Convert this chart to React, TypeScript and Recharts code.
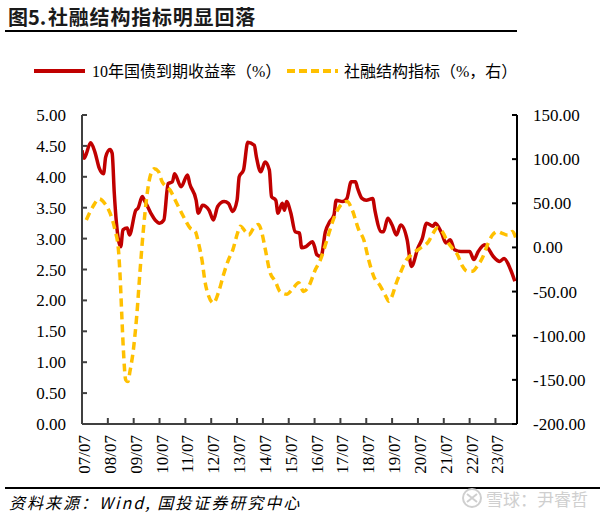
import { LineChart, Line, XAxis, YAxis } from 'recharts'

// months counted from 2007/07
const yieldMonths = [
  0, 1, 4, 6, 8, 10, 11, 13, 14, 15, 16, 18, 19, 21, 22, 25, 26, 28, 29, 32,
  34, 36, 38, 40, 42, 43, 46, 49, 50, 53, 54, 56, 59, 61, 63, 66, 68, 70, 72, 73,
  75, 77, 80, 81, 83, 85, 87, 88, 90, 91, 93, 94, 95, 97, 99, 101, 102, 104, 107, 108,
  109, 111, 113, 115, 117, 118, 121, 123, 125, 127, 128, 130, 132, 135, 136, 139, 140, 142, 144, 146,
  148, 151, 153, 156, 158, 160, 163, 164, 167, 169, 171, 173, 176, 180, 182, 184, 187, 188, 191, 194,
  196, 199, 201,
]
const yieldValues = [
  4.43, 4.3, 4.55, 4.4, 4.14, 4.05, 4.32, 4.44, 4.38, 3.73, 3.25, 2.87, 3.14, 3.17, 3.06, 3.46, 3.49, 3.68, 3.62, 3.41,
  3.3, 3.25, 3.3, 3.89, 3.92, 4.05, 3.84, 4.03, 3.89, 3.62, 3.41, 3.54, 3.46, 3.3, 3.52, 3.6, 3.57, 3.44, 3.62, 4.0,
  4.11, 4.56, 4.51, 4.32, 4.08, 4.24, 4.11, 3.68, 3.62, 3.41, 3.57, 3.46, 3.6, 3.41, 3.11, 3.09, 2.85, 2.87, 2.95, 2.87,
  2.74, 2.71, 3.11, 3.27, 3.38, 3.62, 3.6, 3.65, 3.92, 3.92, 3.81, 3.65, 3.62, 3.65, 3.46, 3.11, 3.11, 3.33, 3.22, 3.06,
  3.22, 2.98, 2.55, 2.85, 3.0, 3.25, 3.2, 3.25, 3.09, 2.93, 2.98, 2.82, 2.79, 2.79, 2.66, 2.79, 2.9, 2.87, 2.71, 2.63,
  2.68, 2.5, 2.31,
]

const tsfMonths = [
  2, 5, 8, 10.5, 13, 15.3, 16.9, 17.7, 18.5, 19.2, 20.3, 21.3, 22.3, 23.9, 25.4, 27, 28.5, 30.1, 31.6, 33.5,
  35.5, 37.1, 40.9, 44, 47.1, 50.2, 52.6, 54.1, 55.7, 57.2, 58.8, 61, 63.5, 65.7, 68, 70, 72.2, 73.5, 75.9, 77.4,
  79.7, 82, 83.6, 85.1, 87.4, 89.7, 92, 95.1, 97.5, 100.6, 102.9, 105.3, 108.4, 110.7, 113.8, 116.2, 119.3, 123.1, 125.4, 128.5,
  130.8, 133.1, 135.5, 138.6, 141, 142.5, 144, 146, 148, 150.2, 153, 157, 161, 163, 165, 167.3, 169.6, 172, 174.3, 176.6,
  179, 181.3, 183.6, 185.9, 188.3, 190.6, 192.9, 195.2, 197.6, 199.9, 201.4,
]
const tsfValues = [
  31, 46, 55, 50, 39, 20, -2, -33, -78, -115, -150, -152, -140, -115, -78, -25, 20, 58, 80, 89,
  86, 75, 65, 50, 35, 22, 18, 5, -14, -40, -55, -63, -50, -31, -14, -3, 16, 24, 18, 14,
  22, 26, 16, -2, -29, -38, -50, -53, -48, -40, -50, -44, -25, -14, 9, 28, 45, 52, 43, 20,
  9, -14, -33, -44, -55, -61, -55, -40, -28, -16, -8, -1, 7, 16, 22, 18, 7, -1, -8, -21,
  -27, -27, -21, -12, 3, 14, 18, 16, 14, 18, 11,
]

const yearTicks = [0, 12, 24, 36, 48, 60, 72, 84, 96, 108, 120, 132, 144, 156, 168, 180, 192]
const yearLabels = [
  '07/07', '08/07', '09/07', '10/07', '11/07', '12/07', '13/07', '14/07', '15/07',
  '16/07', '17/07', '18/07', '19/07', '20/07', '21/07', '22/07', '23/07',
]
const leftTicks = [0, 0.5, 1, 1.5, 2, 2.5, 3, 3.5, 4, 4.5, 5]
const rightTicks = [-200, -150, -100, -50, 0, 50, 100, 150]

const yieldData = yieldMonths.map((m, i) => ({ m, v: yieldValues[i] }))
const tsfData = tsfMonths.map((m, i) => ({ m, v: tsfValues[i] }))

const serif = "'Liberation Serif', 'Noto Sans CJK SC', serif"
const sans = "'Noto Sans CJK SC', sans-serif"
const RED = '#C00000'
const YELLOW = '#FFC000'

const LeftTick = (props: any) => {
  const { x, y, payload } = props
  return (
    <g>
      <line x1={x + 16} x2={x + 21} y1={y} y2={y} stroke="#404040" strokeWidth={2} />
      <text x={x} y={y} dy={6} textAnchor="end" fontFamily={serif} fontSize={17} fill="#000">
        {Number(payload.value).toFixed(2)}
      </text>
    </g>
  )
}

const RightTick = (props: any) => {
  const { x, y, payload } = props
  return (
    <g>
      <line x1={x - 16} x2={x - 21} y1={y} y2={y} stroke="#000" strokeWidth={2} />
      <text x={x} y={y} dy={6} textAnchor="start" fontFamily={serif} fontSize={17} fill="#000">
        {Number(payload.value).toFixed(2)}
      </text>
    </g>
  )
}

const BottomTick = (props: any) => {
  const { x, y, payload } = props
  const idx = yearTicks.indexOf(payload.value)
  const bx = x + 8
  const by = y + 1
  return (
    <g>
      <line x1={x} x2={x} y1={y - 10} y2={y - 16} stroke="#404040" strokeWidth={2} />
      <text
        x={bx}
        y={by}
        textAnchor="end"
        transform={`rotate(-90, ${bx}, ${by})`}
        fontFamily={serif}
        fontSize={17}
        fill="#000"
      >
        {yearLabels[idx]}
      </text>
    </g>
  )
}

export default function App() {
  return (
    <div style={{ position: 'absolute', left: 0, top: 0, width: 606, height: 514, background: '#fff', overflow: 'hidden' }}>
      <div style={{ position: 'absolute', left: 8, top: 2, fontFamily: sans, fontWeight: 700, fontSize: 20, color: '#1a1a1a', whiteSpace: 'nowrap' }}>
        图5.
      </div>
      <div
        style={{
          position: 'absolute',
          left: 48,
          top: 2,
          fontFamily: sans,
          fontWeight: 700,
          fontSize: 20,
          letterSpacing: 0.8,
          color: '#1a1a1a',
          whiteSpace: 'nowrap',
        }}
      >
        社融结构指标明显回落
      </div>
      <div style={{ position: 'absolute', left: 5, top: 30, width: 512, height: 2, background: '#000' }} />

      <svg style={{ position: 'absolute', left: 0, top: 0 }} width={606} height={100}>
        <line x1={34} x2={85} y1={71} y2={71} stroke={RED} strokeWidth={4} />
        <text x={92} y={77} fontFamily={serif} fontSize={16} fill="#000">10年国债到期收益率（%）</text>
        <line x1={287} x2={338} y1={71} y2={71} stroke={YELLOW} strokeWidth={4} strokeDasharray="8 4" />
        <text x={344} y={77} fontFamily={serif} fontSize={16} fill="#000">社融结构指标（%，右）</text>
      </svg>

      <div style={{ position: 'absolute', left: 0, top: 0 }}>
        <LineChart width={606} height={514} margin={{ top: 115, right: 0, bottom: 0, left: 0 }}>
          <XAxis
            dataKey="m"
            type="number"
            domain={[0, 202]}
            ticks={yearTicks}
            interval={0}
            height={90}
            tickSize={0}
            tickMargin={10}
            tickLine={false}
            axisLine={{ stroke: '#404040', strokeWidth: 2 }}
            tick={<BottomTick />}
            allowDataOverflow
          />
          <YAxis
            yAxisId="left"
            orientation="left"
            width={82}
            domain={[0, 5]}
            ticks={leftTicks}
            interval={0}
            tickSize={0}
            tickMargin={16}
            tickLine={false}
            axisLine={{ stroke: '#404040', strokeWidth: 2 }}
            tick={<LeftTick />}
          />
          <YAxis
            yAxisId="right"
            orientation="right"
            width={89}
            domain={[-200, 150]}
            ticks={rightTicks}
            interval={0}
            tickSize={0}
            tickMargin={16}
            tickLine={false}
            axisLine={{ stroke: '#000', strokeWidth: 2 }}
            tick={<RightTick />}
          />
          <Line
            data={yieldData}
            dataKey="v"
            yAxisId="left"
            type="monotone"
            stroke={RED}
            strokeWidth={3.5}
            dot={false}
            isAnimationActive={false}
          />
          <Line
            data={tsfData}
            dataKey="v"
            yAxisId="right"
            type="monotone"
            stroke={YELLOW}
            strokeWidth={3.5}
            strokeDasharray="8 5"
            dot={false}
            isAnimationActive={false}
          />
        </LineChart>
      </div>

      <div style={{ position: 'absolute', left: 5, top: 487, width: 595, height: 2, background: '#000' }} />
      <div
        style={{
          position: 'absolute',
          left: 9,
          top: 490,
          fontFamily: sans,
          fontStyle: 'italic',
          fontSize: 16,
          letterSpacing: 2,
          color: '#000',
          whiteSpace: 'nowrap',
        }}
      >
        资料来源：Wind, 国投证券研究中心
      </div>
      <svg style={{ position: 'absolute', left: 460, top: 486 }} width={24} height={24}>
        <circle cx={12} cy={12} r={9} fill="none" stroke="#cfcfcf" strokeWidth={2} />
        <path d="M7 8 L17 16 M17 8 L7 16" stroke="#cfcfcf" strokeWidth={2} />
      </svg>
      <div style={{ position: 'absolute', left: 486, top: 486, fontFamily: sans, fontSize: 17, color: '#cfcfcf', whiteSpace: 'nowrap' }}>
        雪球：尹睿哲
      </div>
    </div>
  )
}
